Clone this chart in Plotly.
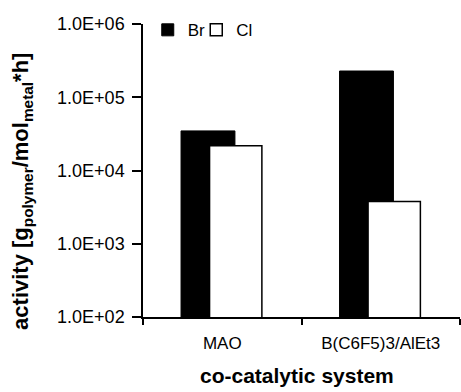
import plotly.graph_objects as go

categories = ["MAO", "B(C6F5)3/AlEt3"]
br_values = [34700, 228000]
cl_values = [21700, 3770]
tick_vals = [1e2, 1e3, 1e4, 1e5, 1e6]
tick_text = ["1.0E+02", "1.0E+03", "1.0E+04", "1.0E+05", "1.0E+06"]

font = "Liberation Sans, Arial, sans-serif"

fig = go.Figure()
fig.add_trace(go.Bar(
    x=categories, y=br_values, name="Br", legend="legend",
    marker=dict(color="black", line=dict(color="black", width=1)),
    width=0.34, offset=-0.26,
))
fig.add_trace(go.Bar(
    x=categories, y=cl_values, name="Cl", legend="legend2",
    marker=dict(color="white", line=dict(color="black", width=1.5)),
    width=0.33, offset=-0.08,
))

fig.add_annotation(
    text="<b>activity [g<sub>polymer</sub>/mol<sub>metal</sub>*h]</b>",
    xref="paper", yref="paper", x=-0.382, y=0.43,
    xanchor="center", yanchor="middle", textangle=-90,
    showarrow=False, font=dict(size=22, family=font, color="black"),
)
fig.add_annotation(
    text="<b>co-catalytic system</b>",
    xref="paper", yref="paper", x=0.486, y=-0.198,
    xanchor="center", yanchor="middle",
    showarrow=False, font=dict(size=21, family=font, color="black"),
)

leg_common = dict(
    orientation="h", y=1.04, xanchor="left", yanchor="top",
    font=dict(size=17), bgcolor="rgba(0,0,0,0)", itemwidth=30,
)

fig.update_layout(
    width=461, height=392,
    margin=dict(l=143, r=1, t=24, b=75, autoexpand=False),
    plot_bgcolor="white", paper_bgcolor="white",
    barmode="overlay",
    font=dict(family=font, size=17, color="black"),
    showlegend=True,
    legend=dict(x=0.015, **leg_common),
    legend2=dict(x=0.168, **leg_common),
    xaxis=dict(
        type="category", range=[-0.5, 1.5], automargin=False,
        showline=True, linecolor="black", linewidth=1.5,
        ticks="outside", ticklen=6, tickwidth=1.5, tickcolor="black",
        tickson="boundaries", showgrid=False,
        tickfont=dict(size=17), ticklabelstandoff=10,
    ),
    yaxis=dict(
        type="log", range=[2, 6], automargin=False,
        tickvals=tick_vals, ticktext=tick_text,
        showline=True, linecolor="black", linewidth=1.5,
        ticks="outside", ticklen=9, tickwidth=1.5, tickcolor="black",
        showgrid=False, zeroline=False,
        tickfont=dict(size=18), ticklabelstandoff=4,
    ),
)

fig.write_html("out.html")
